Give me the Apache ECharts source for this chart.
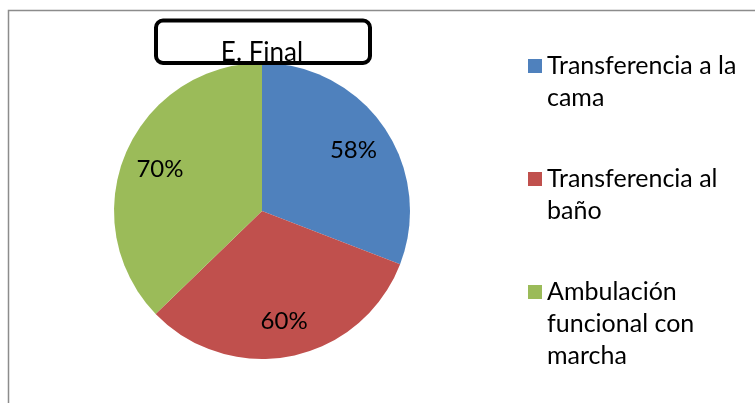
<!DOCTYPE html>
<html>
<head>
<meta charset="utf-8">
<script src="https://cdn.jsdelivr.net/npm/echarts@6/dist/echarts.min.js"></script>
<style>
  html, body { margin: 0; padding: 0; background: #fff; }
  #chart { width: 755px; height: 403px; }
</style>
</head>
<body>
<div id="chart"></div>
<script>
// Chart data
const chartTitle = 'E. Final';
const categories = ['Transferencia a la cama', 'Transferencia al baño', 'Ambulación funcional con marcha'];
const legendLines = [
  ['Transferencia a la', 'cama'],
  ['Transferencia al', 'baño'],
  ['Ambulación', 'funcional con', 'marcha']
];
const values = [58, 60, 70];
const colors = ['#4F81BD', '#C0504D', '#9BBB59'];

const FONT = 'Lato';
const CX = 262, CY = 211, R = 148;
const LINE_H = 32;
const iconCenters = [66, 179, 292];

const chart = echarts.init(document.getElementById('chart'), null, { renderer: 'canvas' });

// One legend per entry so each wrapped label keeps its icon on the first line
const legends = categories.map(function (name, i) {
  const lines = legendLines[i];
  const pad = new Array(lines.length - 1).fill('');
  const text = pad.concat(lines).join('\n');
  const totalLines = 2 * lines.length - 1;
  return {
    data: [name],
    orient: 'vertical',
    left: 528,
    top: iconCenters[i] - totalLines * LINE_H / 2,
    padding: 0,
    itemWidth: 14,
    itemHeight: 14,
    icon: 'rect',
    selectedMode: false,
    formatter: function () { return text; },
    textStyle: { fontFamily: FONT, fontSize: 25, color: '#000', lineHeight: LINE_H }
  };
});

chart.setOption({
  animation: false,
  color: colors,
  title: {
    text: chartTitle,
    left: CX,
    top: 53,
    textAlign: 'center',
    textVerticalAlign: 'middle',
    padding: 0,
    z: 20,
    textStyle: { fontFamily: FONT, fontSize: 26, fontWeight: 'normal', color: '#000' }
  },
  legend: legends,
  series: [{
    type: 'pie',
    center: [CX, CY],
    radius: [0, R],
    startAngle: 90,
    clockwise: true,
    itemStyle: { borderWidth: 0 },
    label: {
      show: true,
      position: 'inside',
      formatter: function (p) { return values[p.dataIndex] + '%'; },
      fontFamily: FONT,
      fontSize: 24,
      color: '#000'
    },
    labelLine: { show: false },
    emphasis: { disabled: true },
    // push labels outward from mid-radius toward the rim
    labelLayout: function (p) {
      const lx = p.labelRect.x + p.labelRect.width / 2;
      const ly = p.labelRect.y + p.labelRect.height / 2;
      const k = 1.44;
      return { x: CX + (lx - CX) * k, y: CY + (ly - CY) * k + 2 };
    },
    data: categories.map(function (name, i) { return { name: name, value: values[i] }; })
  }],
  graphic: [
    {
      type: 'polyline',
      silent: true,
      shape: { points: [[8.5, 403], [8.5, 10.5], [755, 10.5]] },
      style: { stroke: '#8c8c8c', lineWidth: 1.5, fill: null },
      z: 1
    },
    {
      type: 'rect',
      silent: true,
      shape: { x: 156, y: 20.5, width: 214, height: 42.5, r: 7 },
      style: { stroke: '#000', lineWidth: 4, fill: null },
      z: 30
    }
  ]
});
</script>
</body>
</html>
